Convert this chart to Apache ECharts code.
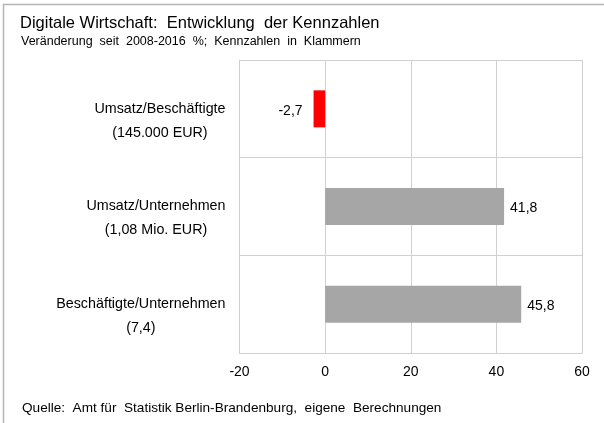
<!DOCTYPE html>
<html><head><meta charset="utf-8">
<script src="https://cdn.jsdelivr.net/npm/echarts@6/dist/echarts.min.js"></script>
<style>html,body{margin:0;padding:0;background:#fff}#c{width:604px;height:423px}</style>
</head><body><div id="c"></div>
<script>
const categories = ["Umsatz/Beschäftigte", "Umsatz/Unternehmen", "Beschäftigte/Unternehmen"];
const subLabels = ["(145.000 EUR)", "(1,08 Mio. EUR)", "(7,4)"];
const values = [-2.7, 41.8, 45.8];
const xTicks = { min: -20, max: 60, interval: 20 };
const titleText = "Digitale Wirtschaft:  Entwicklung  der Kennzahlen";
const subText = "Veränderung  seit  2008-2016  %;  Kennzahlen  in  Klammern";
const sourceText = "Quelle:  Amt für  Statistik Berlin-Brandenburg,  eigene  Berechnungen";

const FONT = "'Liberation Sans', Arial, sans-serif";
const chart = echarts.init(document.getElementById('c'), null, {renderer: 'canvas'});
const fmt = v => v.toFixed(1).replace('.', ',');
chart.setOption({
  animation: false,
  backgroundColor: '#fff',
  textStyle: { fontFamily: FONT },
  title: [
    { text: titleText, left: 15, top: 10, textStyle: { fontSize: 16.5, fontWeight: 'normal', color: '#000', fontFamily: FONT } },
    { text: subText, left: 16, top: 30, textStyle: { fontSize: 12.5, fontWeight: 'normal', color: '#000', fontFamily: FONT } },
    { text: sourceText, left: 17, top: 396, textStyle: { fontSize: 13.6, fontWeight: 'normal', color: '#000', fontFamily: FONT } }
  ],
  graphic: [
    { type: 'rect', silent: true, shape: { x: 3.5, y: 4.5, width: 800, height: 800 }, style: { fill: null, stroke: '#b4b4b4', lineWidth: 1.5 } }
  ],
  grid: { left: 239.5, right: 22, top: 60, bottom: 70, containLabel: false },
  xAxis: {
    type: 'value', min: xTicks.min, max: xTicks.max, interval: xTicks.interval,
    axisLine: { show: true, lineStyle: { color: '#d0d0d0', width: 1 } },
    axisTick: { show: false },
    splitLine: { show: true, lineStyle: { color: '#d0d0d0', width: 1 } },
    axisLabel: { color: '#000', fontSize: 14, margin: 12, fontFamily: FONT }
  },
  yAxis: {
    type: 'category', data: categories, inverse: true,
    axisLine: { show: true, onZero: false, lineStyle: { color: '#d0d0d0', width: 1 } },
    axisTick: { show: false },
    splitLine: { show: true, lineStyle: { color: '#d0d0d0', width: 1 } },
    axisLabel: {
      margin: 14, align: 'right', verticalAlign: 'middle',
      formatter: (v, i) => '{a| }\n{a|' + v + '}\n{a|' + subLabels[i] + '}',
      rich: { a: { align: 'center', fontSize: 14.3, lineHeight: 24, color: '#000', fontFamily: FONT } }
    }
  },
  series: [{
    type: 'bar',
    barWidth: 37,
    data: values.map(v => ({
      value: v,
      itemStyle: { color: v < 0 ? '#ff0000' : '#a6a6a6' },
      label: { show: true, position: v < 0 ? 'left' : 'right', distance: v < 0 ? 11 : 6,
               formatter: () => fmt(v), color: '#000', fontSize: 14, fontFamily: FONT, offset: [0, 2] }
    }))
  }]
});
</script></body></html>
